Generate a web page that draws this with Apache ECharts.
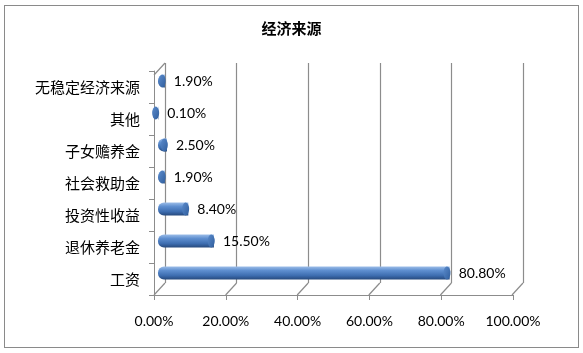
<!DOCTYPE html>
<html><head><meta charset="utf-8">
<script src="https://cdn.jsdelivr.net/npm/echarts@6/dist/echarts.min.js"></script>
<style>
html,body{margin:0;padding:0;background:#fff;}
#c{width:583px;height:353px;position:relative;}
#frame{position:absolute;left:4px;top:5px;width:573px;height:341px;border:1px solid #8a8a8a;pointer-events:none;}
</style></head>
<body><div id="c"></div><div id="frame"></div>
<script>
const title = '经济来源';
const categories = ['工资','退休养老金','投资性收益','社会救助金','子女赡养金','其他','无稳定经济来源'];
const values = [80.8, 15.5, 8.4, 1.9, 2.5, 0.1, 1.9];
const xTicks = [0, 20, 40, 60, 80, 100];

const chart = echarts.init(document.getElementById('c'));
const gray = '#8c8c8c';
const depthX = -11, depthY = 12;
const bodyGrad = new echarts.graphic.LinearGradient(0, 0, 0, 1, [
  {offset: 0, color: '#9cbde8'},
  {offset: 0.3, color: '#5f8fd0'},
  {offset: 0.7, color: '#3d6db0'},
  {offset: 1, color: '#27497c'}
]);
const capGrad = new echarts.graphic.LinearGradient(0, 0, 1, 1, [
  {offset: 0, color: '#5b8bcc'},
  {offset: 1, color: '#2f5d9c'}
]);
chart.setOption({
  animation: false,
  title: {text: title, left: 'center', top: 16, textStyle: {fontFamily: 'Noto Sans CJK SC', fontSize: 15, fontWeight: 'bold', color: '#000'}},
  grid: [
    {left: 154, right: 70, top: 71, bottom: 58},
    {left: 165, right: 60, top: 63, bottom: 70},
    {left: 158, right: 64, top: 65, bottom: 64}
  ],
  xAxis: [
    {gridIndex: 0, type: 'value', min: 0, max: 100, interval: 20,
     axisLine: {show: true, lineStyle: {color: gray, width: 1}},
     axisTick: {show: true, length: 5, lineStyle: {color: gray}},
     splitLine: {show: false},
     axisLabel: {margin: 19, fontFamily: 'Lato', fontSize: 14, color: '#000', formatter: v => v.toFixed(2) + '%'}},
    {gridIndex: 1, type: 'value', min: 0, max: 100, interval: 20,
     axisLine: {show: false}, axisTick: {show: false}, axisLabel: {show: false},
     splitLine: {show: true, lineStyle: {color: gray, width: 1.2}}},
    {gridIndex: 2, type: 'value', min: 0, max: 100, show: false}
  ],
  yAxis: [
    {gridIndex: 0, type: 'category', data: categories,
     axisLine: {show: true, lineStyle: {color: gray}},
     axisTick: {show: true, length: 5, lineStyle: {color: gray}},
     axisLabel: {margin: 14, fontFamily: 'Noto Sans CJK SC', fontSize: 15, color: '#000'}},
    {gridIndex: 1, type: 'value', min: 0, max: 1, show: false},
    {gridIndex: 2, type: 'category', data: categories, show: false}
  ],
  series: [
    {type: 'custom', xAxisIndex: 1, yAxisIndex: 1, silent: true, z: 1,
     data: xTicks,
     renderItem: function (params, api) {
       const v = api.value(0);
       const b = api.coord([v, 0]);
       const children = [{type: 'line', shape: {x1: b[0], y1: b[1], x2: b[0] + depthX, y2: b[1] + depthY}, style: {stroke: gray, lineWidth: 1.2}}];
       if (v === 0) {
         const t = api.coord([v, 1]);
         children.push({type: 'line', shape: {x1: t[0], y1: t[1], x2: t[0] + depthX, y2: t[1] + depthY}, style: {stroke: gray, lineWidth: 1.2}});
       }
       return {type: 'group', children: children};
     },
     encode: {x: 0}},
    {type: 'bar', xAxisIndex: 2, yAxisIndex: 2, data: values, barWidth: 13, z: 5,
     itemStyle: {borderRadius: [6, 0, 0, 6], color: bodyGrad}},
    {type: 'pictorialBar', xAxisIndex: 2, yAxisIndex: 2, data: values, z: 6,
     symbol: 'circle', symbolSize: [7, 13], symbolPosition: 'end', symbolOffset: [1, 0],
     itemStyle: {color: capGrad, borderColor: '#284f88', borderWidth: 0.6},
     label: {show: true, position: 'right', distance: 8, fontFamily: 'Lato', fontSize: 14, color: '#000',
       formatter: p => p.value.toFixed(2) + '%'}}
  ]
});
</script></body></html>
